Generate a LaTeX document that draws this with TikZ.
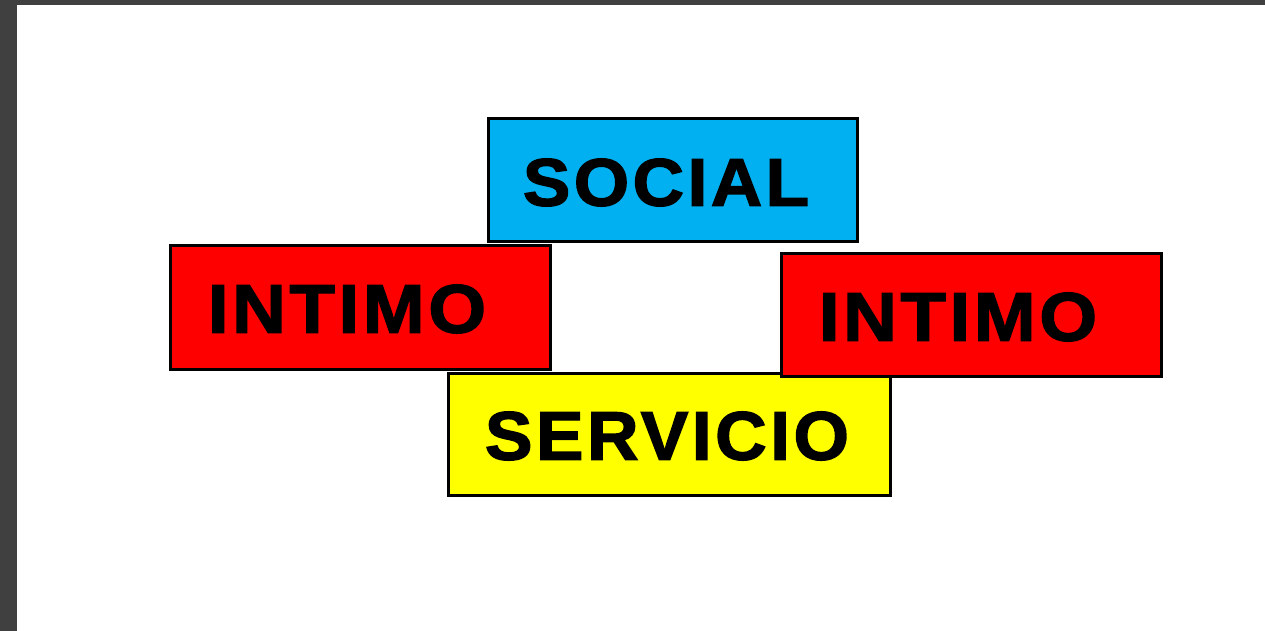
\documentclass[tikz,border=0pt]{standalone}
\usepackage{fontspec}
\setmainfont{Liberation Sans}
\newfontfamily\heavyfont{Liberation Sans Bold}[FakeBold=2,LetterSpace=5]
\definecolor{frame}{HTML}{404040}
\definecolor{cyanbox}{HTML}{00B0F0}
\definecolor{redbox}{HTML}{FF0000}
\definecolor{yellowbox}{HTML}{FFFF00}
\begin{document}
\begin{tikzpicture}[x=1pt,y=-1pt,
  boxstyle/.style={draw=black,line width=3pt,inner sep=0pt,rectangle},
  labelstyle/.style={inner sep=0pt,text=black,font=\heavyfont}]
\useasboundingbox (0,0) rectangle (1265,631);
\fill[frame] (0,0) rectangle (1265,631);
\fill[white] (17,5) rectangle (1265,631);
\node[boxstyle,fill=cyanbox,minimum width=369pt,minimum height=123pt] (bsocial) at (673,180) {};
\node[labelstyle] (tsocial) at (666,182.5) {\resizebox{286pt}{47pt}{SOCIAL}};
\node[boxstyle,fill=yellowbox,minimum width=442pt,minimum height=122pt] (bserv) at (669.5,434.5) {};
\node[labelstyle] (tserv) at (667,436) {\resizebox{364pt}{48pt}{SERVICIO}};
\node[boxstyle,fill=redbox,minimum width=380pt,minimum height=124pt] (bintl) at (360.5,307.5) {};
\node[labelstyle] (tintl) at (347,309) {\resizebox{278pt}{48pt}{INTIMO}};
\node[boxstyle,fill=redbox,minimum width=380pt,minimum height=123pt] (bintr) at (971.5,315) {};
\node[labelstyle] (tintr) at (958,317) {\resizebox{278pt}{48pt}{INTIMO}};
\end{tikzpicture}
\end{document}
